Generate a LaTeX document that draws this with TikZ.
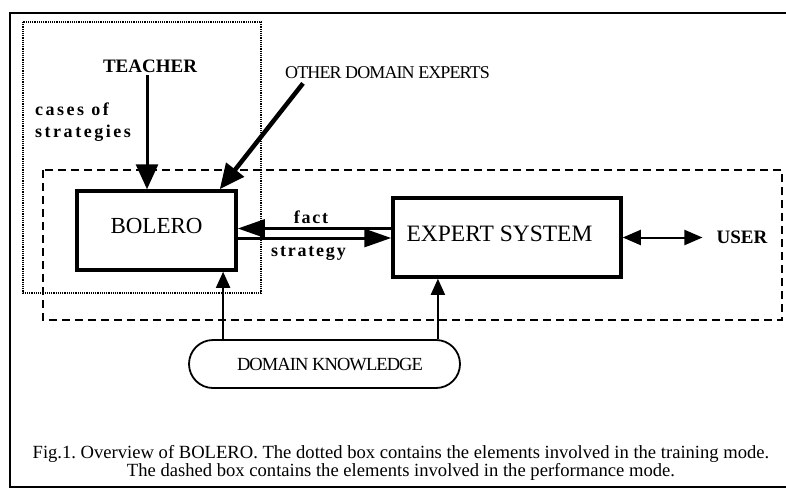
\documentclass[tikz,border=0pt]{standalone}
\usepackage{fontspec}
\setmainfont{Liberation Serif}
\newfontfamily\spacedfont[LetterSpace=10]{Liberation Serif}
\newfontfamily\widefont[LetterSpace=14]{Liberation Serif}
\newfontfamily\tightfont[LetterSpace=-5]{Liberation Serif}
\usetikzlibrary{arrows.meta}
\frenchspacing
\begin{document}
\begin{tikzpicture}[x=1pt,y=-1pt,
  lbl/.style={inner sep=0pt},
  thickbox/.style={draw, line width=3.5pt, inner sep=0pt, minimum height=79pt},
  dottedbox/.style={line width=1.6pt, dash pattern=on 1.2pt off 1pt},
  dashedbox/.style={line width=2.5pt, dash pattern=on 8pt off 5pt},
  bigarrow/.style={-{Triangle[length=25pt,width=22pt]}},
  midarrow/.style={line width=3pt, -{Triangle[length=27pt,width=18pt]}},
  thinarrow/.style={line width=1.8pt, -{Triangle[length=16pt,width=14pt]}},
  userarrow/.style={line width=2pt, {Triangle[length=18pt,width=15pt]}-{Triangle[length=18pt,width=15pt]}},
  boldlbl/.style={lbl, font=\bfseries\fontsize{19}{22}\selectfont},
  spacedlbl/.style={lbl, font=\spacedfont\bfseries\fontsize{18}{22}\selectfont},
]
\clip (0,0) rectangle (786,496);
\fill[white] (0,0) rectangle (786,496);

% outer frame
\draw[line width=2pt] (10,13) rectangle (800,487);

% mode boxes
\draw[dottedbox] (23,22) rectangle (261,293);
\draw[dashedbox] (43,170) rectangle (782,320);

% main nodes
\node[thickbox, minimum width=159pt, font=\fontsize{23}{27}\selectfont,
      text height=16pt, text depth=11pt] (bolero) at (156.5,230.5) {BOLERO};
\node[thickbox, minimum width=228pt, font=\fontsize{23.5}{27}\selectfont,
      text height=16pt, text depth=8pt] (expert) at (507,237.5) {EXPERT SYSTEM\kern15pt};
\node[draw, line width=1.8pt, rounded corners=24pt, minimum width=271pt, minimum height=48pt,
      inner sep=0pt, font=\tightfont\fontsize{18.5}{22}\selectfont,
      text height=13pt, text depth=0pt] (dk) at (324.5,364) {\kern11pt DOMAIN KNOWLEDGE};

% labels
\node[boldlbl, anchor=base] (teacher) at (150,72) {TEACHER};
\node[lbl, font=\tightfont\fontsize{18}{22}\selectfont, anchor=base west] (other) at (285,78.5) {OTHER DOMAIN EXPERTS};
\node[lbl, font=\widefont\bfseries\fontsize{18}{22}\selectfont, anchor=north west, align=left] (cases) at (35,103) {cases of\\strategies};
\node[spacedlbl, anchor=base] (factlbl) at (311,223) {fact};
\node[spacedlbl, anchor=base] (stratlbl) at (308.5,256) {strategy};
\node[boldlbl, anchor=base] (user) at (742,243) {USER};

% caption
\node[lbl, font=\fontsize{18.6}{17}\selectfont, align=center] (caption) at (401,463)
  {Fig.1. Overview of BOLERO. The dotted box contains the elements involved in the training mode.\\
   The dashed box contains the elements involved in the performance mode.};

% connectors
\draw[bigarrow, line width=3pt] ([xshift=-3pt,yshift=-3pt]teacher.south) -- ([xshift=-3pt]teacher.south |- bolero.north);
\draw[bigarrow, line width=4.5pt] ([xshift=18pt,yshift=-4.5pt]other.south west) -- ([xshift=-18pt]bolero.north east);
\draw[midarrow] ([yshift=9pt]expert.west) -- ([yshift=9pt]expert.west -| bolero.east);
\draw[midarrow] ([yshift=-7.5pt]bolero.east) -- ([yshift=-7.5pt]bolero.east -| expert.west);
\draw[userarrow] (expert.east) -- ([xshift=-14pt]user.west |- expert.east);
\draw[thinarrow] ([xshift=35pt]dk.north west) -- ([xshift=35pt]dk.north west |- bolero.south);
\draw[thinarrow] ([xshift=-23pt]dk.north east) -- ([xshift=-23pt]dk.north east |- expert.south);
\end{tikzpicture}
\end{document}
